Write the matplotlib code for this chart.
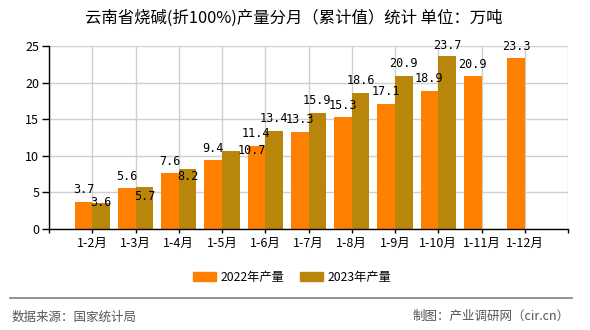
import matplotlib
matplotlib.use("Agg")
import matplotlib.pyplot as plt
from matplotlib.patches import Patch
from matplotlib.lines import Line2D

plt.rcParams['font.family'] = ['Noto Sans CJK SC', 'DejaVu Sans']

months = ['1-2月', '1-3月', '1-4月', '1-5月', '1-6月', '1-7月',
          '1-8月', '1-9月', '1-10月', '1-11月', '1-12月']
output_2022 = [3.7, 5.6, 7.6, 9.4, 11.4, 13.3, 15.3, 17.1, 18.9, 20.9, 23.3]
output_2023 = [3.6, 5.7, 8.2, 10.7, 13.4, 15.9, 18.6, 20.9, 23.7]

C22 = '#ff8000'
C23 = '#b8860b'
PX = 72 / 100  # pixels -> points at dpi 100

# label nudges (pixels) for 2023 labels that would collide with 2022 ones
nudge_23 = {0: (0, 0), 1: (0, -9), 2: (0, -8), 3: (21, 0), 8: (0, 10)}

fig = plt.figure(figsize=(5.9, 3.3), dpi=100)
ax = fig.add_axes([49 / 590, 1 - 229 / 330, 519 / 590, 183 / 330])

x22 = [i + 1 for i in range(len(output_2022))]
x23 = [i + 1 for i in range(len(output_2023))]
w = 0.41
ax.bar([x - w / 2 for x in x22], output_2022, width=w, color=C22, zorder=3)
ax.bar([x + w / 2 for x in x23], output_2023, width=w, color=C23, zorder=3)

mono = {'family': 'DejaVu Sans Mono', 'size': 8.5}
for x, v in zip(x22, output_2022):
    ax.annotate(f'{v:.1f}', (x - w / 2, v), xytext=(0, 12 * PX),
                textcoords='offset points', ha='center', va='center',
                zorder=5, **mono)
for i, (x, v) in enumerate(zip(x23, output_2023)):
    dx, dy = nudge_23.get(i, (0, 12.5))
    ax.annotate(f'{v:.1f}', (x + w / 2, v), xytext=(dx * PX, dy * PX),
                textcoords='offset points', ha='center', va='center',
                zorder=5, **mono)

ax.set_xlim(0, 12)
ax.set_ylim(0, 25)
ax.set_xticks(range(0, 13))
ax.set_xticklabels([''] + months + [''], fontsize=9)
ax.set_yticks(range(0, 26, 5))
ax.tick_params(axis='y', labelsize=9, length=5, width=1, pad=2)
ax.tick_params(axis='x', length=3, width=1, pad=3)
ax.grid(True, color='#d0d0d0', linewidth=1, zorder=0)
for s in ['top', 'right']:
    ax.spines[s].set_visible(False)
for s in ['left', 'bottom']:
    ax.spines[s].set_color('black')
    ax.spines[s].set_linewidth(1)
    ax.spines[s].set_zorder(4)

fig.text(294 / 590, 1 - 18 / 330, '云南省烧碱(折100%)产量分月（累计值）统计 单位：万吨',
         ha='center', va='center', fontsize=11.8, fontweight='medium')

handles = [Patch(color=C22, label='2022年产量'), Patch(color=C23, label='2023年产量')]
fig.legend(handles=handles, loc='center', bbox_to_anchor=(292 / 590, 1 - 277 / 330),
           ncol=2, frameon=False, fontsize=8.8, handlelength=1.9, handleheight=0.75,
           handletextpad=0.35, columnspacing=1.3)

fig.add_artist(Line2D([10 / 590, 572 / 590], [1 - 298 / 330] * 2,
                      color='#808080', linewidth=1.2))
fig.text(12 / 590, 1 - 317 / 330, '数据来源：国家统计局', ha='left', va='center',
         fontsize=9, color='#555555')
fig.text(570 / 590, 1 - 316 / 330, '制图：产业调研网（cir.cn）', ha='right', va='center',
         fontsize=9, color='#555555')

fig.savefig('out.png', dpi=100)
